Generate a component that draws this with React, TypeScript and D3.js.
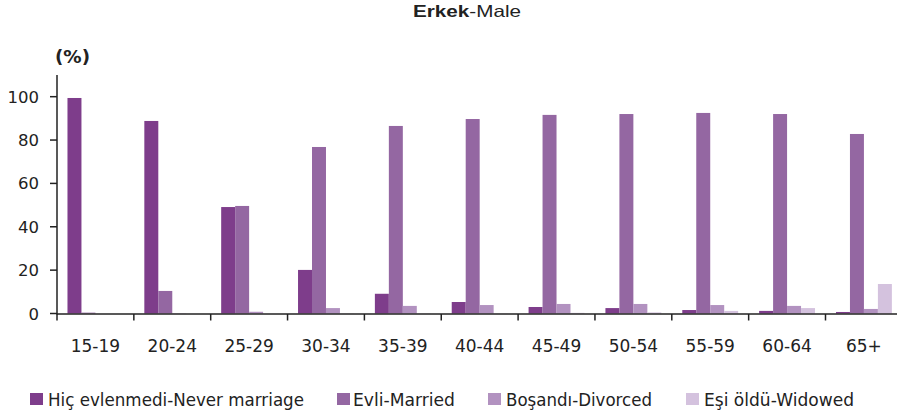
import React, { useEffect } from "react";
import * as d3 from "d3";

const categories = ["15-19", "20-24", "25-29", "30-34", "35-39", "40-44", "45-49", "50-54", "55-59", "60-64", "65+"];
const seriesNames = ["Hiç evlenmedi-Never marriage", "Evli-Married", "Boşandı-Divorced", "Eşi öldü-Widowed"];
const neverMarried = [99.4, 88.8, 49.1, 20.1, 9.1, 5.3, 3.0, 2.5, 1.6, 1.2, 0.7];
const married = [0.4, 10.4, 49.6, 76.8, 86.5, 89.7, 91.6, 92.0, 92.5, 92.0, 82.8];
const divorced = [0.0, 0.1, 0.8, 2.5, 3.5, 3.9, 4.4, 4.4, 3.9, 3.5, 2.1];
const widowed = [0.0, 0.0, 0.0, 0.1, 0.1, 0.1, 0.3, 0.5, 1.2, 2.5, 13.6];
const yTicks = [0, 20, 40, 60, 80, 100];
const colors = ["#7e3d8b", "#9467a2", "#b292c0", "#d4c2de"];

const W = 897;
const H = 415;
const x0 = 57;
const step = 76.85;

export default function App() {
  useEffect(() => {
    document.body.style.margin = "0";
  }, []);

  const seriesValues = [neverMarried, married, divorced, widowed];
  const xOuter = d3.scaleBand<string>().domain(categories).range([x0, x0 + step * categories.length]).padding(0);
  const xInner = d3.scaleBand<string>().domain(seriesNames).range([0, xOuter.bandwidth()]).paddingInner(0).paddingOuter(0.75);
  const y = d3.scaleLinear().domain([0, 110]).range([313.5, 75]);
  const axisColor = "#222";
  const tickFont = "'DejaVu Sans', Verdana, sans-serif";

  const legendPos = [
    { sq: 30, tx: 48, len: 256 },
    { sq: 337, tx: 353, len: 102 },
    { sq: 488, tx: 506, len: 146 },
    { sq: 686, tx: 704, len: 150 },
  ];

  return (
    <svg width={W} height={H} style={{ position: "absolute", left: 0, top: 0, display: "block" }}>
      <rect x={0} y={0} width={W} height={H} fill="#fff" />
      <text x={413} y={17} fontFamily="'Liberation Sans', Arial, sans-serif" fontSize={16.5} fill="#222" textLength={108} lengthAdjust="spacingAndGlyphs">
        <tspan fontWeight="bold">Erkek</tspan>
        <tspan>-Male</tspan>
      </text>
      <text x={55} y={63} fontFamily={tickFont} fontSize={17} fontWeight="bold" fill="#222" textLength={35} lengthAdjust="spacingAndGlyphs">(%)</text>

      {seriesValues.map((vals, si) =>
        categories.map((c, ci) => {
          const v = vals[ci];
          if (v <= 0) return null;
          const bx = (xOuter(c) ?? 0) + (xInner(seriesNames[si]) ?? 0);
          return (
            <rect
              key={`${si}-${ci}`}
              x={bx}
              y={y(v)}
              width={xInner.bandwidth()}
              height={y(0) - y(v)}
              fill={colors[si]}
            />
          );
        })
      )}

      {/* y axis */}
      <line x1={57} x2={57} y1={75} y2={314.5} stroke={axisColor} strokeWidth={1.5} />
      {yTicks.map((t) => (
        <g key={t}>
          <line x1={50} x2={57} y1={y(t)} y2={y(t)} stroke={axisColor} strokeWidth={1.5} />
          <text x={39} y={y(t) + 6} textAnchor="end" fontFamily={tickFont} fontSize={16.5} fill="#222">{t}</text>
        </g>
      ))}

      {/* x axis */}
      <line x1={57} x2={W} y1={314} y2={314} stroke={axisColor} strokeWidth={1.5} />
      {categories.map((c) => (
        <g key={c}>
          <line x1={xOuter(c) ?? 0} x2={xOuter(c) ?? 0} y1={314} y2={320.5} stroke={axisColor} strokeWidth={1.5} />
          <text x={(xOuter(c) ?? 0) + xOuter.bandwidth() / 2} y={352} textAnchor="middle" fontFamily={tickFont} fontSize={17} fill="#222">{c}</text>
        </g>
      ))}

      {/* legend */}
      {seriesNames.map((s, i) => (
        <g key={s}>
          <rect x={legendPos[i].sq} y={393} width={13} height={12} fill={colors[i]} />
          <text x={legendPos[i].tx} y={405.5} fontFamily="'DejaVu Sans', Verdana, sans-serif" fontSize={17} fill="#222" textLength={legendPos[i].len} lengthAdjust="spacingAndGlyphs">{s}</text>
        </g>
      ))}
    </svg>
  );
}
